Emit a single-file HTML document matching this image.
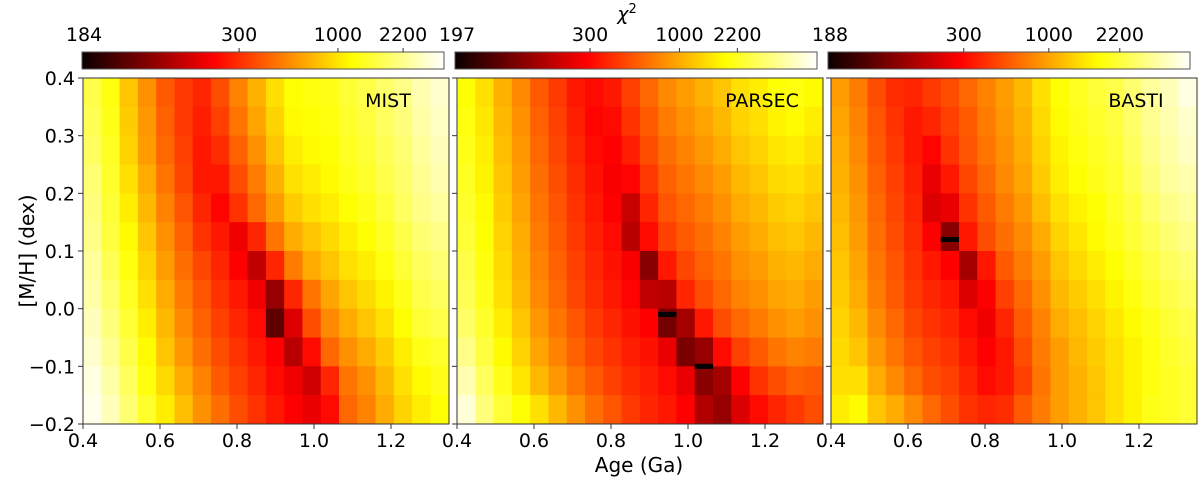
<!DOCTYPE html>
<html><head><meta charset="utf-8">
<style>
body{margin:0;background:#fff;}
svg{display:block;font-family:"DejaVu Sans","Liberation Sans",sans-serif;}
</style></head>
<body>
<svg id="chart" width="1200" height="478" viewBox="0 0 1200 478">
<defs>
<linearGradient id="hot" x1="0" x2="1" y1="0" y2="0">
<stop offset="0" stop-color="#0b0000"/>
<stop offset="0.365" stop-color="#ff0000"/>
<stop offset="0.746" stop-color="#ffff00"/>
<stop offset="1" stop-color="#ffffff"/>
</linearGradient>
</defs>
</svg>
<script>
// ---- data ----
const panelNames = ["MIST", "PARSEC", "BASTI"];
const ageStart = 0.4, ageStep = 0.0475;          // 20 age columns
const mhStart = 0.4, mhStep = -0.05;             // 12 metallicity rows (top to bottom)
const xTicks = [0.4, 0.6, 0.8, 1.0, 1.2];
const yTicks = [0.4, 0.3, 0.2, 0.1, 0.0, -0.1, -0.2];
const cbarMin = [184, 197, 188];
const cbarTickLabels = ["300", "1000", "2200"];
const cbarTickFrac = [[0.434, 0.707, 0.887], [0.373, 0.620, 0.780], [0.375, 0.610, 0.806]];
// colour level (0-100 along the hot colormap) per cell
const mistLevels = [
[82,76,66,58,50,45,42,48,56,63,70,75,76,77,80,82,85,88,92,95],
[83,77,67,59,51,45,41,46,54,61,68,74,75,76,79,81,84,87,91,94],
[84,78,68,60,52,46,40,43,51,58,66,72,74,75,78,80,83,86,90,93],
[86,79,70,62,54,47,40,40,48,55,63,70,72,74,77,79,82,85,89,92],
[87,80,72,64,56,49,42,37,44,52,60,67,70,72,75,77,80,84,88,90],
[88,81,74,66,58,51,44,40,33,42,54,62,66,69,72,75,78,82,86,88],
[90,83,76,68,60,53,47,42,36,26,42,55,62,66,70,72,76,80,84,86],
[91,85,78,70,62,55,49,44,40,33,20,42,54,61,66,69,73,77,82,84],
[93,87,80,72,64,57,51,46,42,38,12,30,48,57,62,66,70,75,80,82],
[95,89,82,74,66,59,53,48,44,40,35,25,38,52,58,62,67,72,77,79],
[97,91,84,76,69,62,56,50,46,42,38,33,28,42,54,58,64,70,74,77],
[98,93,86,79,72,65,58,53,48,44,40,36,32,38,52,56,62,68,72,75]];
const parsecLevels = [
[75,70,63,57,50,45,40,38,40,46,52,57,60,63,66,70,72,75,76,74],
[76,71,64,58,51,46,41,37,38,44,50,55,58,61,64,68,70,73,74,72],
[77,72,65,59,52,47,42,38,36,41,48,53,56,59,62,66,68,71,72,70],
[78,73,66,60,53,48,43,39,34,37,45,51,54,57,60,64,66,69,70,68],
[79,74,67,61,54,49,44,40,36,27,42,49,52,55,58,62,64,67,68,66],
[80,75,68,62,55,50,45,41,38,25,38,46,50,53,56,60,62,65,66,64],
[82,76,69,63,56,51,46,42,39,34,18,40,47,51,54,58,60,63,64,62],
[83,77,70,64,57,52,47,43,40,37,26,25,42,48,52,56,58,61,62,60],
[85,79,72,66,59,54,49,45,42,39,36,15,22,40,48,52,55,58,60,58],
[88,81,74,68,61,56,51,47,44,41,39,32,16,20,38,46,50,54,56,55],
[92,84,77,71,64,59,54,50,46,43,41,38,32,18,22,36,44,48,51,50],
[96,87,80,75,70,64,58,53,49,45,42,40,35,24,20,30,38,42,45,48]];
const bastiLevels = [
[60,55,48,43,42,45,48,52,56,60,64,70,75,78,80,82,86,90,93,97],
[61,56,49,44,40,42,46,50,55,59,63,69,74,77,79,81,85,89,92,95],
[62,57,50,45,40,37,44,49,54,58,62,68,73,76,78,80,84,88,91,94],
[63,58,51,46,41,32,40,47,52,57,61,67,72,75,77,79,83,87,90,92],
[64,59,52,47,42,30,32,44,50,55,59,65,70,73,75,78,81,85,88,90],
[65,60,53,48,43,36,18,40,48,53,57,62,68,71,74,77,80,83,86,88],
[66,61,54,49,44,40,36,22,40,50,55,60,66,69,72,75,78,81,84,86],
[67,62,55,50,45,42,40,30,36,46,52,58,64,67,70,73,76,79,82,84],
[68,64,57,52,47,44,42,38,33,42,50,56,62,65,68,71,74,77,80,82],
[69,66,59,54,49,46,44,40,36,40,48,55,60,64,67,70,73,76,79,81],
[70,70,62,57,52,48,46,42,38,40,46,54,60,63,66,70,73,76,78,80],
[72,74,66,62,57,52,48,44,42,43,50,55,60,63,66,70,73,77,78,80]];
const panelLevels = [mistLevels, parsecLevels, bastiLevels];
// best-fit (minimum chi2) cells: age column start, [M/H]
const minAges = [[], [0.9225, 1.0175], [0.685]];
const minMH = [[], [-0.01, -0.1], [0.12]];

// ---- drawing ----
const NS = "http://www.w3.org/2000/svg";
const svg = document.getElementById("chart");
function mk(tag, attrs, parent) {
  const e = document.createElementNS(NS, tag);
  for (const k in attrs) e.setAttribute(k, attrs[k]);
  (parent || svg).appendChild(e);
  return e;
}
function hot(t) {
  const c = v => Math.round(255 * Math.max(0, Math.min(1, v)));
  const r = c(0.04 + t / 0.365), g = c((t - 0.365) / 0.381), b = c((t - 0.746) / 0.254);
  return `rgb(${r},${g},${b})`;
}
const panelLeft = [83, 457, 831], panelW = 366, plotTop = 78, plotBottom = 424;
const pxPerAge = 385, pxPerMH = (plotBottom - plotTop) / 0.6;
const cbLeft = [82, 455, 828], cbW = 362, cbTop = 52, cbH = 17;

for (let p = 0; p < 3; p++) {
  const L = panelLeft[p];
  const xs = a => L + (a - 0.4) * pxPerAge;
  const ys = m => plotTop + (0.4 - m) * pxPerMH;
  const g = mk("g", {});
  
  
  const lv = panelLevels[p];
  for (let r = 0; r < lv.length; r++) {
    for (let c = 0; c < lv[r].length; c++) {
      const a0 = ageStart + c * ageStep, m0 = mhStart + r * mhStep;
      const x0 = xs(a0), x1 = xs(a0 + ageStep), y0 = ys(m0), y1 = ys(m0 + mhStep);
      const cell = mk("rect", {x: x0.toFixed(2), y: y0.toFixed(2), width: (x1 - x0 + 0.4).toFixed(2), height: (y1 - y0 + 0.4).toFixed(2), fill: hot(lv[r][c] / 100)}, g);
      
      
    }
  }
  for (let i = 0; i < minAges[p].length; i++) {
    const x0 = xs(minAges[p][i]), y0 = ys(minMH[p][i]);
    const mm = mk("rect", {x: x0, y: y0 - 2.5, width: ageStep * pxPerAge, height: 5, fill: "#000"}, g);
    
    
  }
  const fr = mk("rect", {x: L, y: plotTop, width: panelW, height: plotBottom - plotTop, fill: "none", stroke: "#333", "stroke-width": 1});
  
  
  const lab = mk("text", {x: L + 305, y: 107, "font-size": 19, "text-anchor": "middle", fill: "#000"});
  lab.textContent = panelNames[p];
  
  
  for (const t of xTicks) {
    const x = xs(t);
    const tk = mk("line", {x1: x, x2: x, y1: plotBottom, y2: plotBottom + 5, stroke: "#333"});
    
    
    const tl = mk("text", {x: x, y: plotBottom + 23, "font-size": 19, "text-anchor": "middle", fill: "#000"});
    tl.textContent = t.toFixed(1);
    
    
  }
  for (const t of yTicks) {
    const y = ys(t);
    const tk = mk("line", {x1: L - 5, x2: L, y1: y, y2: y, stroke: "#333"});
    
    
    if (p === 0) {
      const tl = mk("text", {x: L - 8, y: y + 7, "font-size": 19, "text-anchor": "end", fill: "#000"});
      tl.textContent = t < 0 ? "\u2212" + Math.abs(t).toFixed(1) : t.toFixed(1);
      
      
    }
  }
  // colorbar
  const cb = mk("rect", {x: cbLeft[p], y: cbTop, width: cbW, height: cbH, fill: "url(#hot)", stroke: "#555", "stroke-width": 1});
  
  
  const cmin = mk("text", {x: cbLeft[p] + 2, y: 41, "font-size": 19, "text-anchor": "middle", fill: "#000"});
  cmin.textContent = String(cbarMin[p]);
  
  
  for (let i = 0; i < cbarTickLabels.length; i++) {
    const x = cbLeft[p] + cbarTickFrac[p][i] * cbW;
    const tk = mk("line", {x1: x, x2: x, y1: cbTop - 4, y2: cbTop, stroke: "#333"});
    
    
    const tl = mk("text", {x: x, y: 41, "font-size": 19, "text-anchor": "middle", fill: "#000"});
    tl.textContent = cbarTickLabels[i];
    
    
  }
}
const chi = mk("text", {x: 627, y: 20, "font-size": 19, "text-anchor": "middle", "font-style": "italic", fill: "#000"});
chi.innerHTML = '\u03c7<tspan dy="-7" font-size="13" font-style="normal">2</tspan>';


const xt = mk("text", {x: 639, y: 472, "font-size": 20, "text-anchor": "middle", fill: "#000"});
xt.textContent = "Age (Ga)";


const yt = mk("text", {x: 0, y: 0, "font-size": 20, "text-anchor": "middle", fill: "#000", transform: "translate(34,251) rotate(-90)"});
yt.textContent = "[M/H] (dex)";


</script>
</body></html>
